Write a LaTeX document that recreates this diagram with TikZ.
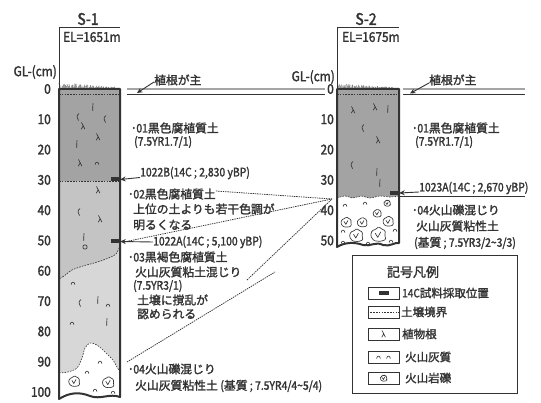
\documentclass[tikz,border=0pt]{standalone}
\usepackage{fontspec}
\newfontfamily\jpf[FakeBold=1.8]{Noto Sans CJK JP}
\newfontfamily\ltf[FakeStretch=0.88,FakeBold=1.8]{Noto Sans CJK JP}
\newcommand\lt[1]{{\ltf #1}}
\usetikzlibrary{arrows.meta}
\definecolor{ink}{HTML}{333333}
\definecolor{soilA}{HTML}{A3A3A3}
\definecolor{soilB}{HTML}{C4C4C4}
\definecolor{soilC}{HTML}{D7D7D7}
\definecolor{grass}{HTML}{7E7E7E}
\tikzset{
  lbl/.style={font=\jpf\fontsize{11.8}{13}\selectfont, text=ink, inner sep=0pt, anchor=west},
  lgd/.style={font=\jpf\fontsize{11.5}{13}\selectfont, text=ink, inner sep=0pt, anchor=west},
  head/.style={font=\ltf\fontsize{13.5}{15}\selectfont, text=ink, inner sep=0pt},
  depth/.style={font=\ltf\fontsize{13.5}{15}\selectfont, text=ink, inner sep=0pt, anchor=east},
  wall/.style={draw=ink, line width=2pt, line join=round},
  thin/.style={draw=ink, line width=0.9pt},
  bnd/.style={draw=ink, line width=0.6pt, dash pattern=on 1.6pt off 1.2pt},
  corr/.style={draw=ink, line width=0.75pt, dash pattern=on 1.4pt off 0.9pt},
  ptr/.style={draw=ink, line width=0.9pt, -{Stealth[length=5.5pt,width=5pt]}},
  sample/.style={fill=ink, inner sep=0pt, minimum width=9pt, minimum height=4pt},
  keybox/.style={draw=ink, line width=0.8pt, inner sep=0pt, minimum width=31pt, minimum height=12pt},
  symline/.style={draw=ink, line width=0.65pt, line cap=round, line join=round},
  ash/.pic={\draw[symline] (-1.8,1.4) .. controls (-1.7,-1.6) and (1.7,-1.6) .. (1.8,1.4);},
  rootA/.pic={\draw[symline] (0,-3.5) .. controls (-1.5,-1) and (1,1) .. (-0.3,3.5);},
  rootB/.pic={\draw[symline] (-1.5,-3.5) -- (1.8,3) (0.1,0) -- (-1.6,3);},
  rootC/.pic={\draw[symline] (1,-3.5) .. controls (-1.5,-1) .. (0.5,3.5);},
  rock/.pic={\draw[symline, fill=white, rounded corners=1.2pt] (-5.5,1.5) -- (-4.5,-2.5) -- (-1.5,-3.5) -- (0.5,-5.5) -- (3,-3.5) -- (5.5,-2.5) -- (5,1.5) -- (6,4) -- (2,5.5) -- (-3,5) -- cycle;
             \draw[symline] (-2,-0.5) -- (-0.2,2.5) -- (2,-1.5);}
}
\begin{document}
\begin{tikzpicture}[x=1pt,y=-1pt]
\useasboundingbox (0,0) rectangle (541,403);

% ---------------- S-1 column ----------------
\fill[soilC] (59,181) rectangle (120,380);
\fill[soilB] (59,181) -- (120,181) -- plot[smooth] coordinates {(120,245) (116,254) (106,259) (94,263) (83,266) (72,270) (64,276) (59,279)} -- cycle;
\fill[soilA] (59,89) rectangle (120,181);
\fill[white] plot[smooth] coordinates {(59,373) (68,372) (77,368) (82,358) (85,348) (90,343) (97,345) (103,350) (108,355) (113,360) (117,367) (120,372)}
  -- (120,397) .. controls (110,393) and (100,400) .. (90,396) .. controls (80,392) and (70,392) .. (59,399) -- cycle;
% horizon boundaries
\draw[bnd] (59,94) -- (120,94);
\draw[bnd] (59,181) -- (120,181);
\draw[bnd] plot[smooth] coordinates {(120,245) (116,254) (106,259) (94,263) (83,266) (72,270) (64,276) (59,279)};
\draw[bnd] plot[smooth] coordinates {(59,373) (68,372) (77,368) (82,358) (85,348) (90,343) (97,345) (103,350) (108,355) (113,360) (117,367) (120,372)};
% roots and ash
\foreach \x/\y/\s in {93/107/rootA, 78/117/rootC, 83/126/rootB, 105/119/rootC, 98/137/rootB, 77/144/rootA, 80/163/rootB, 98/190/rootB, 79/212/rootC, 100/219/rootB, 84/237/rootA, 98/300/rootA, 80/303/rootC, 107/322/rootA}
  {\pic at (\x,\y) {\s};}
\foreach \x/\y in {97/163, 73/283, 108/305, 72/323, 100/362, 87/372, 95/390, 113/392}
  {\pic at (\x,\y) {ash};}
\draw[symline] (85,247) circle (2.2);
\pic at (74,381) {rock};
\pic[scale=1.05] at (108,382) {rock};
% grass
\pgfmathsetseed{7}
\foreach \x in {60,60.9,...,115}{
  \pgfmathsetmacro\h{(2.5+3.5*rnd)*(1-(\x-60)/80)}
  \pgfmathsetmacro\d{3*rnd-1.5}
  \draw[grass, line width=0.55pt] (\x,88.5) -- ++(\d,-\h);}
% outline
\draw[wall] (59,89) -- (59,399) .. controls (70,392) and (80,392) .. (90,396) .. controls (100,400) and (110,393) .. (120,397) -- (120,89) -- cycle;
\draw[thin] (59,89) -- (59,27) -- (120,27);
\node[head, font=\ltf\fontsize{16}{18}\selectfont] (s1) at (88,19) {S-1};
\node[head, anchor=west] (el1) at (63,37) {EL=1651m};
\node[head, anchor=east] (gl1) at (57,72) {GL-(cm)};
\foreach \d in {0,10,...,100}{\node[depth] at (51,89+3.03*\d) {\d};}
% samples
\node[sample] (m1022B) at (115.5,179.5) {};
\node[sample] (m1022A) at (115.5,241.5) {};

% ---------------- S-2 column ----------------
\fill[soilA] (337,89) -- (399,89) -- (399,196) -- plot[smooth] coordinates {(390,197) (380,196) (370,198) (361,196) (353,198) (345,196) (337,198)} -- cycle;
\draw[bnd] (337,94) -- (399,94);
\draw[bnd] plot[smooth] coordinates {(337,198) (345,196) (353,198) (361,196) (370,198) (380,196) (390,197) (399,196)};
\foreach \x/\y/\s in {353/110/rootB, 375/107/rootB, 388/109/rootA, 363/128/rootC, 378/140/rootB, 352/165/rootC, 377/172/rootA, 380/183/rootA}
  {\pic at (\x,\y) {\s};}
\foreach \x/\y in {345/205, 365/203, 343/231, 395/230, 391/241, 368/243, 343/242}
  {\pic at (\x,\y) {ash};}
\pic[scale=0.6] at (387,203) {rock};
\pic[scale=0.95] at (346,222) {rock};
\pic[scale=0.9] at (362,222) {rock};
\pic[scale=0.75] at (377,213) {rock};
\pic[scale=0.95] at (388,221) {rock};
\pic[scale=1.2] at (356,235) {rock};
\pic[scale=1.35] at (378,234) {rock};
\pgfmathsetseed{11}
\foreach \x in {338,338.9,...,393}{
  \pgfmathsetmacro\h{(2.5+3*rnd)*(1-(\x-338)/75)}
  \pgfmathsetmacro\d{3*rnd-1.5}
  \draw[grass, line width=0.55pt] (\x,88.5) -- ++(\d,-\h);}
\draw[wall] (337,89) -- (337,247) .. controls (345,242) and (355,242) .. (363,245) .. controls (370,247) and (376,241) .. (383,245) .. controls (390,247) and (395,242) .. (399,243) -- (399,89) -- cycle;
\draw[thin] (337,89) -- (337,27) -- (399,27);
\node[head, font=\ltf\fontsize{16}{18}\selectfont] (s2) at (366,19) {S-2};
\node[head, anchor=west] (el2) at (342,37) {EL=1675m};
\node[head, anchor=east] (gl2) at (335,77) {GL-(cm)};
\foreach \d in {0,10,...,50}{\node[depth] at (334,89+3.03*\d) {\d};}
\node[sample] (m1023A) at (394.5,193) {};

% ---------------- ground surface ----------------
\draw[grass!70, line width=1.6pt] (127,89) -- (325,89);
\draw[ink, line width=1pt] (127,94.5) -- (325,94.5);
\draw[grass!70, line width=1.6pt] (403,89) -- (525,89);
\draw[ink, line width=1pt] (403,94.5) -- (525,94.5);
\node[lbl] (root1) at (154,80) {植根が主};
\node[lbl] (root2) at (429,80) {植根が主};
\coordinate (gr1) at (137,93);
\coordinate (gr2) at (410,93.5);
\draw[ptr] ([yshift=-2pt]root1.west) -- (gr1);
\draw[ptr] ([yshift=-3pt]root2.west) -- (gr2);

% ---------------- S-1 descriptions ----------------
\node[lbl] (a01) at (131,128) {\lt{･01}黒色腐植質土};
\node[lbl] (a01c) at (134,142) {\lt{(7.5YR1.7/1)}};
\node[lbl] (t1022B) at (140,173) {\lt{1022B(14C ; 2,830 yBP)}};
\node[lbl] (a02) at (128,194) {\lt{･02}黒色腐植質土};
\node[lbl] (a02b) at (133,209) {上位の土よりも若干色調が};
\node[lbl] (a02c) at (133,225) {明るくなる};
\node[lbl] (t1022A) at (153,242) {\lt{1022A(14C ; 5,100 yBP)}};
\node[lbl] (a03) at (128,257) {\lt{･03}黒褐色腐植質土};
\node[lbl] (a03b) at (135,272) {火山灰質粘土混じり};
\node[lbl] (a03c) at (133,286) {\lt{(7.5YR3/1)}};
\node[lbl] (a03d) at (137,300) {土壌に撹乱が};
\node[lbl] (a03e) at (137,314) {認められる};
\node[lbl] (a04) at (128,369) {\lt{･04}火山礫混じり};
\node[lbl] (a04b) at (135,386) {火山灰質粘性土 \lt{(}基質\lt{ ; 7.5YR4/4\textasciitilde 5/4)}};
\draw[ptr] ([yshift=-4.5pt]t1022B.west) -- (m1022B.east);
\draw[ptr] (t1022A.west) -- (m1022A.east);

% ---------------- S-2 descriptions ----------------
\node[lbl] (b01) at (412,128) {\lt{･01}黒色腐植質土};
\node[lbl] (b01c) at (415,142) {\lt{(7.5YR1.7/1)}};
\node[lbl] (t1023A) at (419,188) {\lt{1023A(14C ; 2,670 yBP)}};
\node[lbl] (b04) at (412,210) {\lt{･04}火山礫混じり};
\node[lbl] (b04b) at (416,226) {火山灰質粘性土};
\node[lbl] (b04c) at (414,243) {\lt{(}基質\lt{ ; 7.5YR3/2\textasciitilde 3/3)}};
\draw[ptr] ([yshift=-4pt]t1023A.west) -- (m1023A.east);
\draw[ink, line width=0.6pt] (m1023A.east) ++(0,3.5) coordinate (u0) -- (525,196.5) coordinate (u1);

% ---------------- correlation lines ----------------
\coordinate (c2) at (332,199);
\coordinate (c1a) at (124,242);
\coordinate (c1b) at (247,280);
\coordinate (c1c) at (127,362);
\coordinate (c1d) at (275,272);
\draw[corr] ([yshift=3pt]a02.east) -- (c2);
\draw[corr] (c1a) -- (c2);
\draw[corr] (c1b) -- (c2);
\draw[corr] (c1c) -- (c1d);

% ---------------- legend ----------------
\draw[thin] (352,255) rectangle (517,393);
\node[head, font=\jpf\fontsize{13}{15}\selectfont] (ltitle) at (413,272) {記号凡例};
\node[keybox] (k1) at (383.5,293) {};
\node[keybox] (k2) at (383.5,312) {};
\node[keybox] (k3) at (383.5,334) {};
\node[keybox] (k4) at (383.5,357) {};
\node[keybox] (k5) at (383.5,378) {};
\node[sample, minimum width=10pt] at (k1) {};
\draw[bnd] (k2.west) -- (k2.east);
\pic at (k3) {rootB};
\pic at ([xshift=-5pt]k4.center) {ash};
\pic at ([xshift=5pt]k4.center) {ash};
\pic[scale=0.6] at (k5) {rock};
\node[lgd] (l1) at (402,293) {\lt{14C}試料採取位置};
\node[lgd] (l2) at (401,312) {土壌境界};
\node[lgd] (l3) at (402,334) {植物根};
\node[lgd] (l4) at (405,357) {火山灰質};
\node[lgd] (l5) at (405,378) {火山岩礫};
\end{tikzpicture}
\end{document}
